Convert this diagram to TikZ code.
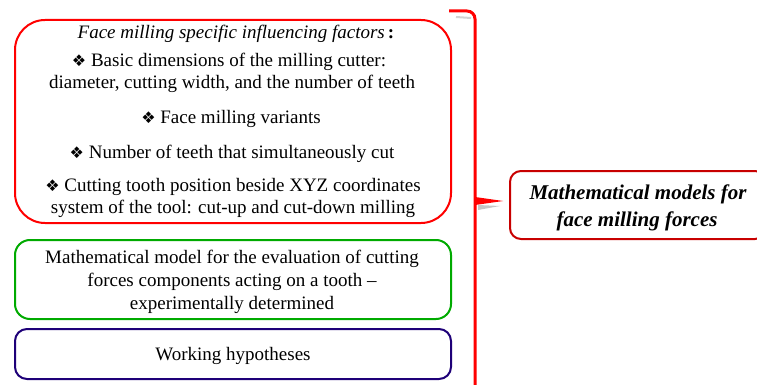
\documentclass[tikz,border=0pt]{standalone}
\usepackage{fontspec}
\setmainfont{Liberation Serif}
\newfontfamily\symfont{DejaVu Sans}
\definecolor{boxred}{RGB}{255,0,0}
\definecolor{darkred}{RGB}{200,0,0}
\definecolor{boxgreen}{RGB}{0,170,0}
\definecolor{boxnavy}{RGB}{30,0,120}
\newcommand{\bul}{{\symfont\fontsize{16}{16}\selectfont ❖}\ }
\tikzset{
  frame/.style={draw, line width=2pt, inner sep=0pt},
  txt/.style={anchor=base, inner sep=0pt, font=\fontsize{19}{22}\selectfont},
  ttl/.style={anchor=base, inner sep=0pt, font=\fontsize{21}{24}\selectfont\bfseries\itshape}
}
\begin{document}
\begin{tikzpicture}[x=1pt,y=-1pt]
\useasboundingbox (0,0) rectangle (757,385);
\clip (0,0) rectangle (757,385);
% boxes
\node[frame, draw=boxred, rounded corners=30pt, minimum width=436pt, minimum height=203pt] (factors) at (233,121.5) {};
\node[frame, draw=boxgreen, rounded corners=15pt, minimum width=436pt, minimum height=79pt] (model) at (233,279.5) {};
\node[frame, draw=boxnavy, rounded corners=12pt, minimum width=436pt, minimum height=50pt] (hyp) at (233,354) {};
\node[frame, draw=darkred, rounded corners=11pt, minimum width=256pt, minimum height=68pt] (mm) at (638,205) {};
% texts of the red box
\node[txt] (t0) at (236,39) {\textit{Face milling specific influencing factors}\,\textbf{:}};
\node[txt] (t1) at (229,67) {\bul Basic dimensions of the milling cutter:};
\node[txt] (t2) at (232,89) {diameter, cutting width, and the number of teeth};
\node[txt] (t3) at (231,124) {\bul Face milling variants};
\node[txt] (t4) at (232,158) {\bul Number of teeth that simultaneously cut};
\node[txt] (t5) at (233,191) {\bul Cutting tooth position beside XYZ coordinates};
\node[txt] (t6) at (233,213) {system of the tool: cut-up and cut-down milling};
% green box
\node[txt] (g1) at (232,263) {Mathematical model for the evaluation of cutting};
\node[txt] (g2) at (232,286) {forces components acting on a tooth --};
\node[txt] (g3) at (232,309) {experimentally determined};
% navy box
\node[txt] (h1) at (233,360) {Working hypotheses};
% right box
\node[ttl] (m1) at (638,199) {Mathematical models for};
\node[ttl] (m2) at (637,226) {face milling forces};
% brace
\coordinate (btop) at (449,11);
\coordinate (bbot) at (475,395);
\coordinate (btip) at (503,201);
\draw[gray!35, line width=2pt] (456,17) -- (471,18);
\fill[gray!45] (478,205) -- (500,206) -- (478,210) -- cycle;
\draw[boxred, line width=3pt] (btop) -- (467,11) to[out=0,in=90] (475,19) -- (bbot);
\fill[boxred] (475,197) -- (btip) -- (475,205) -- cycle;
\end{tikzpicture}
\end{document}
